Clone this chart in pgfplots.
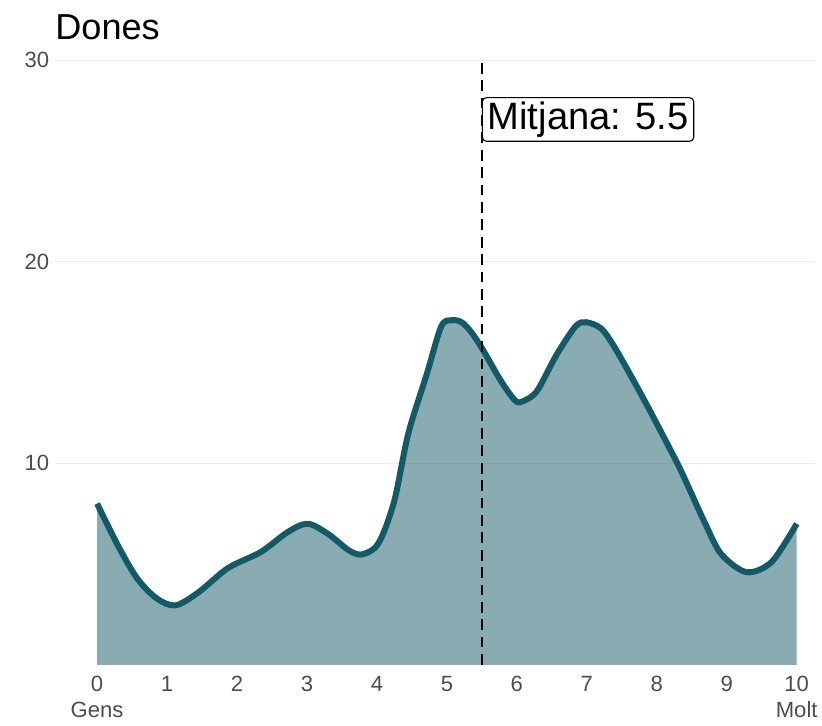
\documentclass[border=0pt]{standalone}
\usepackage{pgfplots}
\pgfplotsset{compat=1.18}
\usepackage{fontspec}
\setmainfont{Liberation Sans}

\definecolor{linecol}{HTML}{135A66}
\definecolor{tickgrey}{HTML}{4D4D4D}
\definecolor{gridgrey}{HTML}{EBEBEB}

\begin{document}
\begin{tikzpicture}
\begin{axis}[
    scale only axis,
    width=568pt, height=452pt,
    xmin=-0.6, xmax=10.26,
    ymin=0, ymax=30,
    axis line style={draw=none},
    xtick={0,1,2,3,4,5,6,7,8,9,10},
    xticklabels={{0\\Gens},1,2,3,4,5,6,7,8,9,{10\\Molt}},
    ytick={10,20,30},
    major tick length=0pt,
    ymajorgrids=true,
    grid style={gridgrey, line width=1pt},
    tick label style={font=\fontsize{16.5}{19.5}\selectfont, text=tickgrey},
    xticklabel style={align=center, anchor=north, yshift=-5pt},
    yticklabel style={anchor=east, xshift=-1pt},
    /pgf/number format/assume math mode=true,
    title={Dones},
    title style={at={(0,1)}, anchor=south west, font=\fontsize{27}{31}\selectfont, inner sep=0pt, yshift=9pt},
    clip=false,
]
% density area
\addplot[draw=none, fill=linecol, fill opacity=0.5, smooth] coordinates {
    (0,8.0)(0.29,5.97)(0.57,4.3)(0.85,3.3)(1.12,2.95)(1.45,3.6)(1.87,4.8)
    (2.34,5.6)(2.73,6.6)(3.01,7.0)(3.3,6.5)(3.59,5.7)(3.77,5.47)(3.97,5.8)
    (4.1,6.6)(4.26,8.3)(4.45,11.5)(4.71,14.4)(4.92,16.8)(5.07,17.1)(5.21,17.0)
    (5.35,16.5)(5.52,15.6)(5.77,14.1)(5.98,13.1)(6.1,13.1)(6.29,13.6)(6.57,15.4)
    (6.84,16.8)(6.99,17.0)(7.2,16.7)(7.39,15.8)(7.78,13.4)(8.1,11.3)(8.35,9.6)
    (8.68,7.1)(8.92,5.5)(9.28,4.6)(9.64,5.1)(10,7.0)
} \closedcycle;
\addplot[linecol, line width=4.5pt, smooth, line join=round] coordinates {
    (0,8.0)(0.29,5.97)(0.57,4.3)(0.85,3.3)(1.12,2.95)(1.45,3.6)(1.87,4.8)
    (2.34,5.6)(2.73,6.6)(3.01,7.0)(3.3,6.5)(3.59,5.7)(3.77,5.47)(3.97,5.8)
    (4.1,6.6)(4.26,8.3)(4.45,11.5)(4.71,14.4)(4.92,16.8)(5.07,17.1)(5.21,17.0)
    (5.35,16.5)(5.52,15.6)(5.77,14.1)(5.98,13.1)(6.1,13.1)(6.29,13.6)(6.57,15.4)
    (6.84,16.8)(6.99,17.0)(7.2,16.7)(7.39,15.8)(7.78,13.4)(8.1,11.3)(8.35,9.6)
    (8.68,7.1)(8.92,5.5)(9.28,4.6)(9.64,5.1)(10,7.0)
};
% mean line
\addplot[black, line width=1.3pt, dash pattern=on 8pt off 5pt] coordinates {(5.5,0)(5.5,30)};
\node[draw=black, fill=white, rounded corners=3pt, anchor=west, inner xsep=4pt, inner ysep=3pt,
      line width=0.8pt, font=\fontsize{28.5}{32}\selectfont] at (axis cs:5.5,27.06) {Mitjana: 5.5};
\end{axis}
% outer white margin like the reference
\path ([shift={(-15pt,11pt)}]current axis.outer north west);
\path ([shift={(0pt,-2pt)}]current axis.outer south east);
\end{tikzpicture}
\end{document}
